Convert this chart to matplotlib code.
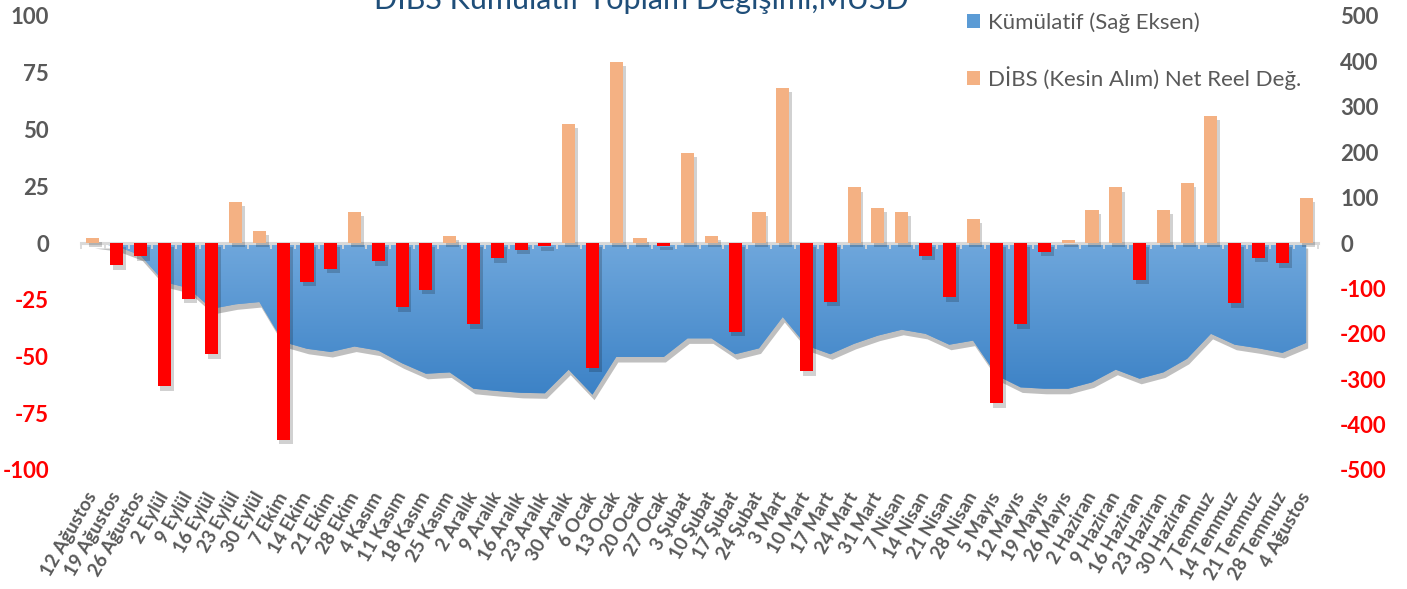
import numpy as np
import matplotlib.pyplot as plt
import matplotlib.patheffects as pe
from matplotlib.patches import Patch
from matplotlib.colors import LinearSegmentedColormap

tarihler = ['12 Ağustos', '19 Ağustos', '26 Ağustos', '2 Eylül', '9 Eylül', '16 Eylül',
            '23 Eylül', '30 Eylül', '7 Ekim', '14 Ekim', '21 Ekim', '28 Ekim',
            '4 Kasım', '11 Kasım', '18 Kasım', '25 Kasım', '2 Aralık', '9 Aralık',
            '16 Aralık', '23 Aralık', '30 Aralık', '6 Ocak', '13 Ocak', '20 Ocak',
            '27 Ocak', '3 Şubat', '10 Şubat', '17 Şubat', '24 Şubat', '3 Mart',
            '10 Mart', '17 Mart', '24 Mart', '31 Mart', '7 Nisan', '14 Nisan',
            '21 Nisan', '28 Nisan', '5 Mayıs', '12 Mayıs', '19 Mayıs', '26 Mayıs',
            '2 Haziran', '9 Haziran', '16 Haziran', '23 Haziran', '30 Haziran',
            '7 Temmuz', '14 Temmuz', '21 Temmuz', '28 Temmuz', '4 Ağustos']

# haftalik net reel degisim (sol eksen)
net_reel = [2.4, -9.9, -5.9, -63.2, -24.7, -49.1, 18.1, 5.3, -86.6, -17.2, -11.6, 13.7,
            -8.1, -28.4, -20.7, 3.2, -35.9, -6.8, -3.2, -1.5, 52.4, -55.0, 79.7, 2.4,
            -1.2, 39.6, 3.2, -39.0, 13.7, 68.3, -56.6, -25.9, 24.5, 15.6, 13.7, -5.7,
            -24.0, 10.7, -70.7, -35.9, -4.0, 1.5, 14.7, 24.5, -16.3, 14.7, 26.3, 56.0,
            -26.6, -6.6, -9.0, 19.8]

# kumulatif (sag eksen)
kumulatif = [0, -7, -27, -86, -99, -145, -135, -130, -218, -233, -240, -228, -237, -265,
             -288, -285, -321, -326, -330, -331, -279, -334, -251, -251, -251, -210, -210,
             -245, -232, -163, -226, -245, -222, -204, -191, -200, -224, -215, -292, -318,
             -321, -321, -307, -279, -299, -285, -255, -200, -224, -232, -242, -220]

sol_ticks = [100, 75, 50, 25, 0, -25, -50, -75, -100]
sag_ticks = [500, 400, 300, 200, 100, 0, -100, -200, -300, -400, -500]

plt.rcParams['font.family'] = ['Lato', 'DejaVu Sans']
plt.rcParams['axes.unicode_minus'] = False
GRI = '#595959'

fig = plt.figure(figsize=(14.07, 5.89), dpi=100)
ax = fig.add_axes([81/1407, 1-470/589, (1318-81)/1407, (470-16)/589])
ax2 = ax.twinx()
ax.set_zorder(2)
ax2.set_zorder(1)
ax.patch.set_visible(False)

x = np.arange(len(tarihler))

# alan + gradyan
alan = ax2.fill_between(x, kumulatif, 0, facecolor='#5B9BD5', lw=0,
                        path_effects=[pe.SimplePatchShadow(offset=(1.5, -4), shadow_rgbFace='k', alpha=0.25),
                                      pe.Normal()])
cmap = LinearSegmentedColormap.from_list('mavi', ['#6FA7DC', '#3C82C6'])
grad = np.linspace(0, 1, 256).reshape(-1, 1)
im = ax2.imshow(grad, extent=[x[0], x[-1], min(kumulatif), 0], aspect='auto',
                cmap=cmap, origin='upper', zorder=alan.get_zorder() + 0.1)
im.set_clip_path(alan.get_paths()[0], transform=ax2.transData)

ax2.set_ylim(-500, 500)
ax2.set_yticks(sag_ticks)
ax2.set_xlim(-0.5, len(tarihler) - 0.5)

# cubuklar
renkler = ['#F4B183' if v > 0 else '#FF0000' for v in net_reel]
ax.bar(x, net_reel, width=0.55, color=renkler, zorder=3,
       path_effects=[pe.SimplePatchShadow(offset=(2, -3), shadow_rgbFace='k', alpha=0.18), pe.Normal()])
ax.set_ylim(-100, 100)
ax.set_yticks(sol_ticks)
ax.set_xlim(-0.5, len(tarihler) - 0.5)

# sifir ekseni
sec = ax.secondary_xaxis(0.4999)
sec.set_xticks(np.arange(-0.5, len(tarihler), 1))
sec.set_xticklabels([])
sec.tick_params(direction='out', length=4, width=1.3, color='#D9D9D9')
for s in sec.spines.values():
    s.set_visible(False)
sec.spines['bottom'].set_visible(True)
sec.spines['bottom'].set_color('#D9D9D9')
sec.spines['bottom'].set_linewidth(2.2)

ax.set_xticks(x)
ax.set_xticklabels(tarihler, rotation=60, ha='right', va='center', rotation_mode='anchor',
                   fontsize=13.5, fontweight='bold', color=GRI)
ax.tick_params(axis='x', length=0, pad=17)

for a in (ax, ax2):
    for s in a.spines.values():
        s.set_visible(False)

ax.tick_params(axis='y', length=0, pad=23, labelsize=16)
ax2.tick_params(axis='y', length=0, pad=16, labelsize=16)
for lbl, v in zip(ax.get_yticklabels(), sol_ticks):
    lbl.set_fontweight('bold')
    lbl.set_color('#FF0000' if v < 0 else GRI)
for lbl, v in zip(ax2.get_yticklabels(), sag_ticks):
    lbl.set_fontweight('bold')
    lbl.set_color('#FF0000' if v < 0 else GRI)

fig.text(641/1407, 1 - 9/589, 'DİBS Kümülatif Toplam Değişimi,MUSD', ha='center',
         va='baseline', fontsize=22, color='#1F4E79')

handles = [Patch(facecolor='#5B9BD5'), Patch(facecolor='#F4B183')]
fig.legend(handles, ['Kümülatif (Sağ Eksen)', 'DİBS (Kesin Alım) Net Reel Değ.'],
           loc='upper left', bbox_to_anchor=(947/1407, 1 + 8/589), frameon=False,
           fontsize=16, labelcolor=GRI, handlelength=0.6, handleheight=0.6,
           handletextpad=0.35, labelspacing=1.5)

fig.savefig('out.png', dpi=100)
